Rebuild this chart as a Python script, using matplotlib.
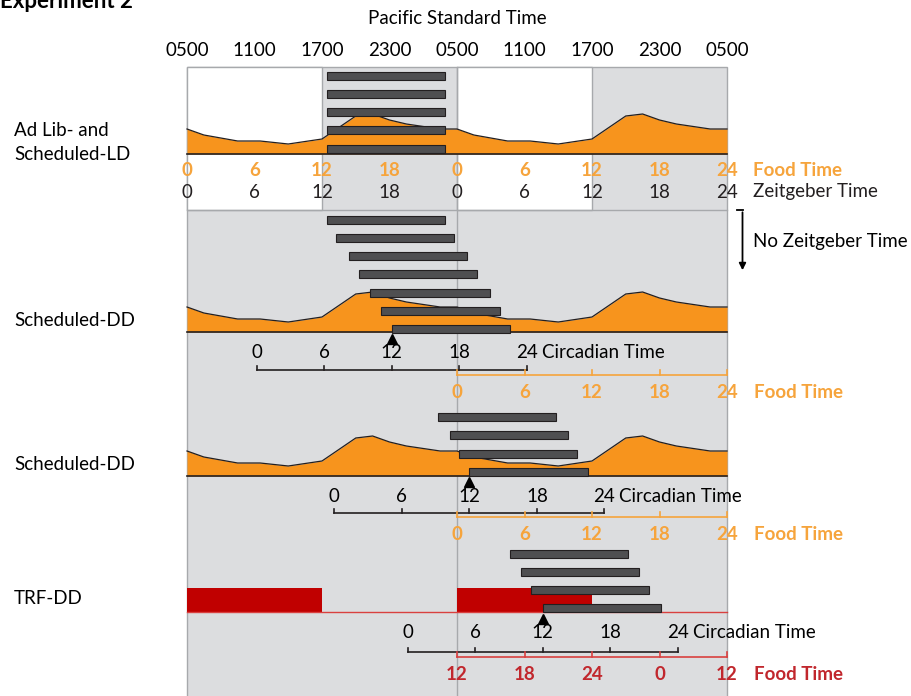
import numpy as np
import matplotlib.pyplot as plt
from matplotlib.patches import Rectangle

plt.rcParams['font.family'] = ['Lato', 'DejaVu Sans']

# x axis: hours since 0500 PST (two days), y axis: layout rows in pixels from top
clock_hours = [0, 6, 12, 18, 24, 30, 36, 42, 48]
clock_labels = ['0500', '1100', '1700', '2300', '0500', '1100', '1700', '2300', '0500']

# daily food intake profile (hour of day, relative intake)
profile_h = [0, 1.5, 4.5, 6.5, 9, 12, 15, 16.5, 18, 19.5, 22.5, 24]
profile_v = [25, 19, 13, 13, 10, 15, 38, 40, 34, 30, 25, 25]

# activity bouts (onset / offset, hours)
ld_on = [12.4, 12.4, 12.4, 12.4, 12.4]
ld_off = [22.9, 22.9, 22.9, 22.9, 22.9]
dd1_on = [12.4, 13.2, 14.4, 15.3, 16.3, 17.2, 18.2]
dd1_off = [22.9, 23.7, 24.9, 25.8, 26.9, 27.8, 28.7]
dd2_on = [22.3, 23.4, 24.2, 25.1]
dd2_off = [32.8, 33.9, 34.7, 35.6]
trf_on = [28.7, 29.65, 30.6, 31.6]
trf_off = [39.2, 40.2, 41.1, 42.1]

# time-restricted feeding windows (hours)
trf_food = [(0, 12), (24, 36)]

ld_food_labels = ['0', '6', '12', '18', '0', '6', '12', '18', '24']
zt_labels = ['0', '6', '12', '18', '0', '6', '12', '18', '24']
ct_labels = ['0', '6', '12', '18', '24']
sched_food_labels = ['0', '6', '12', '18', '24']
trf_food_labels = ['12', '18', '24', '0', '12']

ORANGE = '#f7941d'
ORANGE_TXT = '#f6a43c'
RED = '#c00000'
RED_TXT = '#c1272d'
GRAY = '#dcdddf'
EDGE = '#a7a9ac'
BAR = '#4f4f51'
DARK = '#231f20'

PX = 11.25  # pixels per hour


def hx(px):
    return (px - 187) / PX


fig = plt.figure(figsize=(9.11, 6.96), dpi=100)
ax = fig.add_axes([0, 0, 1, 1])
ax.set_xlim(hx(0), hx(911))
ax.set_ylim(696, 0)
ax.axis('off')

FS = 13.5

# backgrounds
ax.add_patch(Rectangle((0, 67), 48, 700, facecolor=GRAY, edgecolor=EDGE, lw=1, zorder=0))
for x0 in (0, 24):
    ax.add_patch(Rectangle((x0, 67), 12, 143, facecolor='white', edgecolor=EDGE, lw=1, zorder=0.5))
ax.plot([0, 48], [210, 210], color=EDGE, lw=1, zorder=0.6)
ax.plot([24, 24], [67, 700], color=EDGE, lw=1, zorder=0.6)

# titles (the heading is cropped at the top edge, as in the source figure)
ax.text(hx(0), 7.5, 'Experiment 2', fontsize=16, fontweight='bold', ha='left', va='baseline')
ax.text(24, 18, 'Pacific Standard Time', fontsize=FS, ha='center', va='center')
for h, lab in zip(clock_hours, clock_labels):
    ax.text(h, 50, lab, fontsize=FS, ha='center', va='center')


def draw_profile(base):
    xs = list(profile_h) + [h + 24 for h in profile_h[1:]]
    vs = list(profile_v) + list(profile_v[1:])
    xs, vs = np.array(xs), np.array(vs)
    ax.fill_between(xs, base, base - vs, color=ORANGE, lw=0, zorder=2)
    ax.plot(xs, base - vs, color=DARK, lw=0.9, zorder=2.5)
    ax.plot([0, 48], [base, base], color=DARK, lw=1.2, zorder=2.5)


def draw_bars(on, off, y0, dy):
    on, off = np.array(on), np.array(off)
    ys = y0 + dy * np.arange(len(on))
    ax.barh(ys, off - on, left=on, height=8, color=BAR, edgecolor=DARK, lw=0.8, zorder=4)
    return ys


def draw_ct(ct0, lab_y, line_y):
    ticks = ct0 + np.arange(0, 25, 6)
    ax.plot([ticks[0], ticks[-1]], [line_y, line_y], color=DARK, lw=1.2, zorder=3)
    for t, lab in zip(ticks, ct_labels):
        ax.plot([t, t], [line_y, line_y - 4.5], color=DARK, lw=1.2, zorder=3)
        ax.text(t, lab_y, lab, fontsize=FS, ha='center', va='center', zorder=5)
    ax.text(ticks[-1] + hx(202), lab_y, 'Circadian Time', fontsize=FS, ha='left', va='center', zorder=5)


def draw_food_axis(line_y, lab_y, labels, color, txt_color):
    ticks = np.arange(24, 49, 6)
    ax.plot([24, 48], [line_y, line_y], color=color, lw=1.2, zorder=3)
    for t, lab in zip(ticks, labels):
        ax.plot([t, t], [line_y, line_y - 5], color=color, lw=1.2, zorder=3)
        ax.text(t, lab_y, lab, fontsize=FS, fontweight='bold', color=txt_color,
                ha='center', va='center', zorder=5)
    ax.text(hx(754), lab_y, 'Food Time', fontsize=FS, fontweight='bold', color=txt_color,
            ha='left', va='center')


# panel 1: Ad Lib- and Scheduled-LD
draw_profile(154)
draw_bars(ld_on, ld_off, 75.7, 18.2)
for h, a, b in zip(clock_hours, ld_food_labels, zt_labels):
    ax.text(h, 171, a, fontsize=FS, fontweight='bold', color=ORANGE_TXT, ha='center', va='center', zorder=5)
    ax.text(h, 192, b, fontsize=FS, color=DARK, ha='center', va='center', zorder=5)
ax.text(hx(753), 171, 'Food Time', fontsize=FS, fontweight='bold', color=ORANGE_TXT, ha='left', va='center')
ax.text(hx(753), 192, 'Zeitgeber Time', fontsize=FS, color=DARK, ha='left', va='center')
ax.text(hx(14), 130, 'Ad Lib- and', fontsize=FS, ha='left', va='center')
ax.text(hx(14), 155, 'Scheduled-LD', fontsize=FS, ha='left', va='center')

# no zeitgeber arrow
ax.plot([hx(737), hx(742.5)], [210, 210], color='black', lw=1.3)
ax.annotate('', xy=(hx(742.5), 273), xytext=(hx(742.5), 209.5),
            arrowprops=dict(arrowstyle='-|>', color='black', lw=1.3, mutation_scale=10))
ax.text(hx(753), 242, 'No Zeitgeber Time', fontsize=FS, ha='left', va='center')

# panel 2: Scheduled-DD
draw_profile(332)
draw_bars(dd1_on, dd1_off, 219.5, 18.25)
ax.plot(dd1_on[-1], 339, marker='^', color='black', ms=7, zorder=5)
draw_ct(dd1_on[-1] - 12, 353, 370)
draw_food_axis(375, 392, sched_food_labels, ORANGE_TXT, ORANGE_TXT)
ax.text(hx(14), 321, 'Scheduled-DD', fontsize=FS, ha='left', va='center')

# panel 3: Scheduled-DD
draw_profile(476)
draw_bars(dd2_on, dd2_off, 417, 18.4)
ax.plot(dd2_on[-1], 482, marker='^', color='black', ms=7, zorder=5)
draw_ct(dd2_on[-1] - 12, 496, 513)
draw_food_axis(517, 534, sched_food_labels, ORANGE_TXT, ORANGE_TXT)
ax.text(hx(14), 464, 'Scheduled-DD', fontsize=FS, ha='left', va='center')

# panel 4: TRF-DD
for a, b in trf_food:
    ax.add_patch(Rectangle((a, 588), b - a, 24, facecolor=RED, edgecolor='none', zorder=2))
ax.plot([0, 48], [612, 612], color='#d9403f', lw=1, zorder=2.5)
draw_bars(trf_on, trf_off, 553.5, 18.3)
ax.plot(trf_on[-1], 619, marker='^', color='black', ms=7, zorder=5)
draw_ct(trf_on[-1] - 12, 633, 652)
draw_food_axis(657, 675, trf_food_labels, '#d9403f', RED_TXT)
ax.text(hx(14), 598, 'TRF-DD', fontsize=FS, ha='left', va='center')

fig.savefig('out.png', dpi=100)
